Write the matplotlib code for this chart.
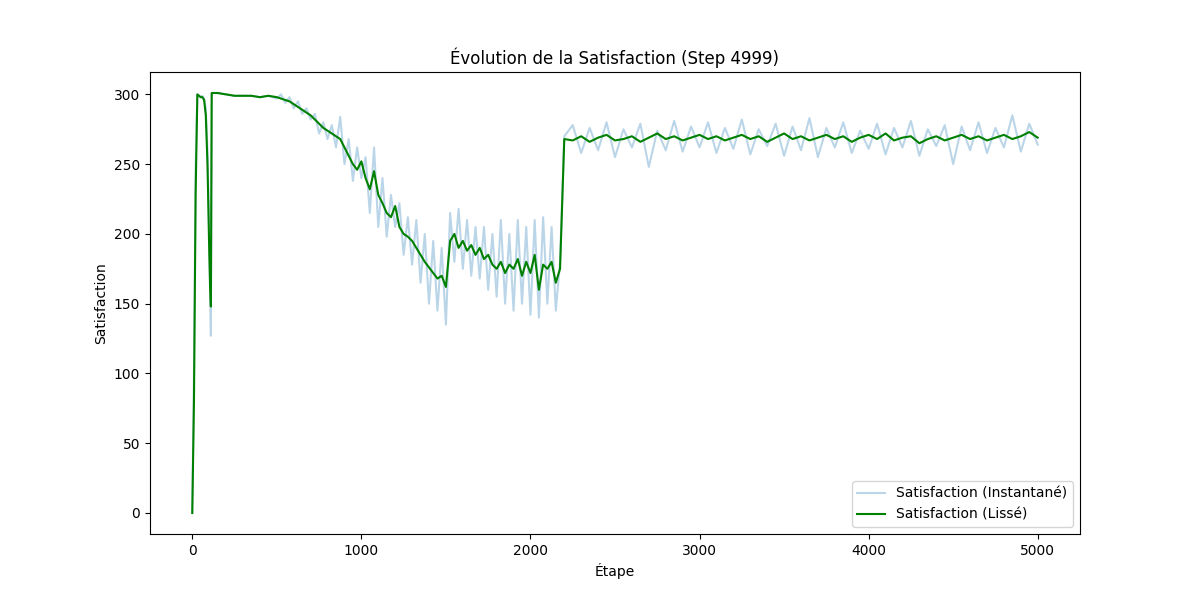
import matplotlib.pyplot as plt

steps = ([0, 10, 20, 30, 40, 50, 60, 70, 80, 90, 100, 105, 110, 115, 120, 150, 200, 250, 300, 350, 400, 450, 500]
         + list(range(525, 2201, 25)) + list(range(2250, 5001, 50)))

inst = [0, 100, 250, 300, 299, 298, 299, 297, 290, 260, 200, 160, 127, 301, 301, 301, 300, 299, 299, 299, 298, 299, 297,
        300, 294, 298, 290, 295, 286, 290, 282,
        286, 272, 280, 268, 278, 262, 284, 250,
        268, 238, 262, 240, 255, 215, 262, 205,
        240, 198, 228, 205, 222, 185, 212, 178,
        210, 165, 200, 150, 195, 145, 190, 135,
        215, 180, 218, 175, 210, 170, 205, 168,
        205, 160, 200, 155, 210, 150, 200, 145,
        210, 150, 205, 142, 210, 140, 212, 150,
        205, 145, 180, 270,
        278, 258, 276, 260, 280, 255, 275, 262, 279, 248, 274, 260, 281, 259, 277, 262,
        280, 258, 276, 261, 282, 257, 275, 263, 279, 256, 277, 260, 283, 255, 276, 262,
        280, 258, 274, 261, 279, 257, 276, 262, 281, 256, 275, 263, 278, 250, 277, 260,
        280, 258, 276, 262, 285, 259, 279, 264]

smooth = [0, 80, 230, 300, 299, 298, 298, 296, 285, 250, 190, 165, 148, 301, 301, 301, 300, 299, 299, 299, 298, 299, 298,
          297, 296, 295, 293, 291, 289, 287, 285,
          282, 279, 276, 274, 272, 270, 268, 262,
          256, 250, 246, 252, 240, 232, 245, 228,
          222, 215, 212, 220, 205, 200, 198, 195,
          190, 185, 180, 176, 172, 168, 170, 162,
          195, 200, 190, 195, 188, 192, 185, 190,
          182, 185, 178, 175, 180, 172, 178, 175,
          182, 170, 180, 172, 185, 160, 178, 175,
          180, 165, 175, 268,
          267, 270, 266, 269, 271, 267, 268, 270, 266, 269, 272, 268, 270, 267, 269, 271,
          268, 270, 267, 269, 271, 268, 270, 266, 269, 272, 268, 270, 267, 269, 271, 268,
          270, 266, 269, 271, 268, 272, 267, 269, 270, 265, 268, 270, 267, 269, 271, 268,
          270, 267, 269, 271, 268, 270, 273, 269]

fig, ax = plt.subplots(figsize=(12, 6), dpi=100)
ax.plot(steps, inst, color='tab:blue', alpha=0.3, label='Satisfaction (Instantané)')
ax.plot(steps, smooth, color='green', label='Satisfaction (Lissé)')
ax.set_title('Évolution de la Satisfaction (Step 4999)')
ax.set_xlabel('Étape')
ax.set_ylabel('Satisfaction')
ax.legend(loc='lower right')
plt.savefig('out.png')
